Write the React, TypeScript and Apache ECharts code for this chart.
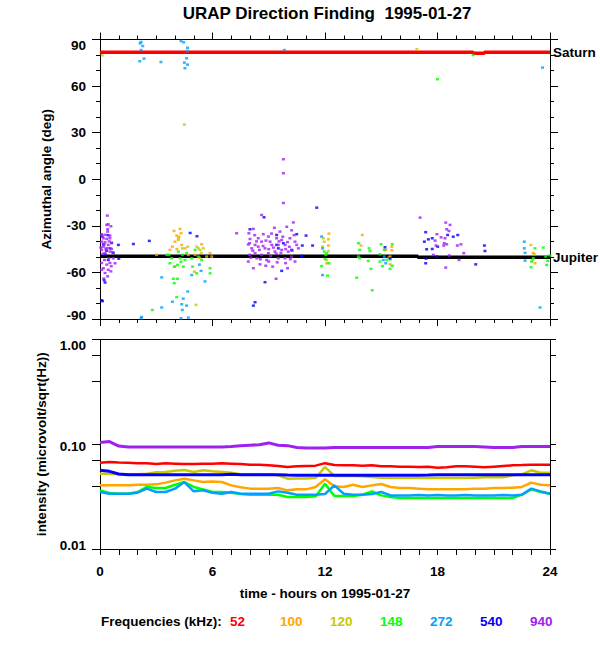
import React, { useEffect, useRef } from 'react';
import * as echarts from 'echarts';

const TITLE = 'URAP Direction Finding  1995-01-27';
const X_NAME = 'time - hours on 1995-01-27';
const Y1_NAME = 'Azimuthal angle (deg)';
const Y2_NAME = 'intensity (microvolt/sqrt(Hz))';
const FREQ_LABEL = 'Frequencies (kHz):';
const FREQS = ['52', '100', '120', '148', '272', '540', '940'];
const COLORS = ['#ff0000', '#ffa500', '#c8c800', '#00ff00', '#00a0ff', '#0000ff', '#a020f0'];

// bottom panel: intensity vs time
const HOURS = [0, 0.5, 1, 1.5, 2, 2.5, 3, 3.5, 4, 4.5, 5, 5.5, 6, 6.5, 7, 7.5, 8, 8.5, 9, 9.5, 10, 10.5, 11, 11.5, 12, 12.5, 13, 13.5, 14, 14.5, 15, 15.5, 16, 16.5, 17, 17.5, 18, 18.5, 19, 19.5, 20, 20.5, 21, 21.5, 22, 22.5, 23, 23.5, 24];
const INT_52 = [0.0667, 0.0677, 0.067, 0.0667, 0.066, 0.066, 0.0648, 0.0657, 0.0653, 0.0648, 0.0648, 0.0653, 0.0653, 0.0657, 0.0653, 0.0648, 0.0638, 0.0638, 0.0629, 0.062, 0.0606, 0.0615, 0.062, 0.0625, 0.066, 0.0633, 0.0629, 0.0629, 0.0625, 0.0629, 0.0615, 0.0615, 0.0611, 0.0611, 0.0606, 0.0611, 0.0598, 0.0602, 0.0615, 0.0615, 0.0611, 0.0602, 0.0611, 0.062, 0.0629, 0.0633, 0.0638, 0.0638, 0.0638];
const INT_100 = [0.0405, 0.0405, 0.0405, 0.0405, 0.0411, 0.0411, 0.0414, 0.043, 0.0452, 0.0469, 0.0452, 0.0436, 0.0442, 0.0436, 0.0405, 0.0388, 0.0377, 0.0377, 0.0377, 0.0382, 0.0363, 0.0371, 0.0371, 0.0391, 0.0463, 0.0397, 0.0391, 0.0411, 0.0391, 0.0405, 0.0417, 0.0391, 0.0382, 0.0382, 0.0377, 0.0371, 0.0371, 0.0371, 0.0371, 0.0371, 0.0377, 0.0377, 0.0382, 0.0382, 0.0385, 0.0391, 0.043, 0.0411, 0.0405];
const INT_120 = [0.0524, 0.0524, 0.0516, 0.0516, 0.0516, 0.0524, 0.054, 0.0543, 0.0559, 0.0568, 0.0543, 0.0564, 0.0551, 0.0543, 0.0535, 0.0516, 0.0516, 0.0516, 0.0516, 0.0505, 0.0469, 0.0472, 0.0472, 0.0476, 0.0606, 0.0498, 0.0498, 0.0498, 0.0494, 0.0487, 0.048, 0.0476, 0.0476, 0.0476, 0.0476, 0.0476, 0.0476, 0.0476, 0.0476, 0.0476, 0.048, 0.0483, 0.0483, 0.0483, 0.0505, 0.0516, 0.0564, 0.0535, 0.0535];
const INT_148 = [0.0363, 0.0342, 0.0337, 0.0337, 0.035, 0.0391, 0.0382, 0.0382, 0.0411, 0.0436, 0.0391, 0.0371, 0.035, 0.035, 0.0345, 0.0335, 0.033, 0.033, 0.033, 0.033, 0.0314, 0.0314, 0.0314, 0.0318, 0.042, 0.0321, 0.0321, 0.0321, 0.033, 0.0355, 0.0325, 0.0314, 0.0307, 0.0307, 0.0307, 0.0307, 0.0307, 0.0307, 0.0307, 0.0307, 0.0307, 0.0307, 0.0307, 0.0307, 0.0307, 0.033, 0.0371, 0.035, 0.0337];
const INT_272 = [0.035, 0.0337, 0.0337, 0.0337, 0.0345, 0.0377, 0.035, 0.035, 0.0377, 0.0436, 0.0355, 0.0363, 0.0345, 0.0337, 0.035, 0.0337, 0.0337, 0.0337, 0.0337, 0.0355, 0.0345, 0.033, 0.033, 0.033, 0.0335, 0.0405, 0.0337, 0.033, 0.033, 0.0335, 0.035, 0.0325, 0.0325, 0.0325, 0.0327, 0.0325, 0.0327, 0.0325, 0.0325, 0.0327, 0.0325, 0.0325, 0.0325, 0.0327, 0.0325, 0.033, 0.0377, 0.0355, 0.0337];
const INT_540 = [0.0564, 0.0551, 0.052, 0.0512, 0.0512, 0.0512, 0.0512, 0.0512, 0.0512, 0.0512, 0.0512, 0.0512, 0.0512, 0.0512, 0.0516, 0.0512, 0.0512, 0.0512, 0.0512, 0.0512, 0.0508, 0.0505, 0.0505, 0.0505, 0.0505, 0.0505, 0.0505, 0.0505, 0.0505, 0.0505, 0.0505, 0.0505, 0.0505, 0.0505, 0.0505, 0.0508, 0.0512, 0.0512, 0.0512, 0.0512, 0.0512, 0.0512, 0.0512, 0.0512, 0.0512, 0.0512, 0.0512, 0.0512, 0.0512];
const INT_940 = [0.104, 0.106, 0.096, 0.094, 0.094, 0.094, 0.094, 0.094, 0.094, 0.094, 0.094, 0.094, 0.094, 0.094, 0.095, 0.097, 0.098, 0.099, 0.103, 0.098, 0.097, 0.093, 0.092, 0.092, 0.092, 0.093, 0.093, 0.093, 0.093, 0.093, 0.093, 0.093, 0.093, 0.093, 0.093, 0.093, 0.095, 0.095, 0.095, 0.095, 0.095, 0.094, 0.093, 0.093, 0.093, 0.095, 0.095, 0.095, 0.095];

// top panel: planet directions [hour, deg]
const SATURN = [[0, 81.8], [19.9, 81.8], [19.9, 81.2], [20.5, 81.2], [20.5, 81.8], [24, 81.8]];
const JUPITER = [[0, -49.6], [16.95, -49.6], [16.95, -50.2], [24, -50.2]];

// top panel: direction-finding points [hour, deg]
const DF_100 = [[3.95, -33.3], [4.27, -32], [4.09, -36.3], [4.18, -38], [4.0, -40.2], [4.32, -34.8], [3.86, -43.4], [4.36, -42.3], [4.53, -44.5], [3.02, -48.7], [5.07, -48.7], [5.42, -41.9], [5.87, -47.6], [5.96, -49.8], [4.71, -48.7], [3.73, -45.5], [5.03, -59.5], [4.1, -45], [5.3, -50.5], [12.21, -35], [12.18, -42.7], [12.09, -54.1], [13.99, -35.9], [13.92, -42.7], [15.56, -43.4], [15.56, -45.7], [15.25, -45.5], [15.47, -54.8], [15.47, -49.8], [23.2, -54.1], [23.11, -47.5]];
const DF_120 = [[4.18, -39.1], [4.21, -37], [5.16, -43.4], [5.33, -45.5], [5.24, -44.5], [5.51, -44.5], [4.0, -56.3], [5.69, -49.8], [5.12, -80.9], [4.39, -44.5], [4.68, -43.4], [4.5, 35.2], [0.12, 79.8], [16.9, 83.7], [11.91, -38], [11.96, -40.2], [12.18, -38.7], [11.87, -43.4], [12.18, -46.2], [12.09, -52], [15.41, -50.5], [22.98, -42.3], [23.16, -48.3], [23.06, -52], [5.4, -47.5]];
const DF_148 = [[3.68, -48.7], [3.82, -50.9], [3.73, -54.1], [3.96, -56.3], [4.13, -55.2], [4.27, -50.9], [4.39, -48.7], [4.32, -53.1], [4.53, -52], [4.62, -47.6], [4.89, -50.9], [5.07, -45.5], [5.24, -49.8], [5.42, -52], [4.94, -56.3], [5.16, -60.6], [5.87, -57.3], [5.87, -60.6], [3.96, -66.9], [3.91, -64.1], [4.13, -64.1], [4.09, -75.9], [2.79, -84.2], [3.56, -48.7], [4.44, -56.3], [4.18, -46.6], [18.0, 64.4], [19.9, 80], [11.96, -46.6], [12.04, -48.7], [12.0, -51.4], [11.82, -55.9], [12.14, -62.1], [12.21, -54.1], [12.09, -47.6], [13.78, -41.2], [13.85, -45.5], [13.78, -49.8], [13.85, -50.9], [13.69, -63.4], [14.31, -52.6], [14.4, -46.2], [14.35, -44.5], [14.52, -71.5], [14.99, -41.9], [14.93, -48.3], [14.93, -53], [15.06, -55.9], [14.45, -57.7], [15.29, -52], [15.47, -51.6], [15.59, -41.9], [15.59, -55.7], [15.47, -57.7], [15.16, -45.5], [23.2, -44.5], [23.11, -50.9], [23.02, -53], [22.99, -56.7], [23.64, -44], [23.77, -49.8], [23.88, -52.6], [24, -49.1], [23.82, -55.2]];
const DF_272 = [[2.19, 88.4], [2.14, 87.5], [2.28, 85.8], [2.19, 83.2], [2.35, 77.7], [2.12, 76], [3.25, 75.5], [4.32, 89], [4.46, 88.2], [4.67, 84.7], [4.64, 82.6], [4.62, 77.9], [4.5, 75.1], [4.67, 73.8], [4.53, 71.5], [9.83, 83.2], [23.6, 71.9], [3.29, -63.2], [5.6, -65.8], [4.89, -61.7], [5.39, -59], [4.68, -72.3], [4.44, -76.9], [3.86, -78.9], [3.29, -82.6], [4.62, -81.4], [4.39, -84.2], [4.36, -80.5], [4.71, -89.1], [4.32, -89.5], [2.19, -89.5], [2.22, -88.7], [5.3, -55], [11.82, -36.9], [11.87, -44.5], [11.87, -61.7], [15.16, -49.8], [15.24, -54.1], [15.11, -52], [22.63, -40.2], [22.63, -44.5], [22.67, -47.4], [22.67, -52.4], [23.47, -82.6]];
const DF_540 = [[0.09, -36.3], [0.18, -42], [0.53, -44.5], [0.71, -47.4], [0.98, -42.3], [1.0, -51.2], [0.27, -48.5], [0.27, -66.5], [0.22, -65], [0.13, -78.5], [0.44, -52], [0.62, -41], [0.09, -77.9], [0.35, -46], [0.42, -36], [1.78, -41.7], [2.63, -39.7], [4.81, -34.6], [5.17, -36.7], [8.75, -24.5], [8.0, -32.2], [9.42, -35.9], [10.99, -36.3], [10.49, -35.4], [11.34, -42.7], [10.79, -42.7], [10.22, -45.5], [9.51, -44.5], [10.76, -49.8], [9.69, -59], [8.8, -66.3], [8.27, -79.2], [8.18, -81.4], [9.42, -42.3], [9.78, -41.2], [11.56, -18.3], [10.76, -49.4], [15.2, -43.8], [15.47, -50.9], [17.37, -34.1], [17.51, -38.7], [17.72, -38], [17.3, -40.2], [17.42, -45.1], [17.72, -44.9], [17.96, -49.8], [18.54, -35.9], [18.84, -37], [19.08, -35.9], [17.37, -54.1], [18.01, -43.4], [20.5, -42.7], [20.53, -46.2], [20.04, -54.8], [17.39, -51.1]];
const DF_940 = [[0.39, -23.4], [0.44, -29], [0.36, -29.4], [0.41, -32.2], [0.58, -30.3], [0.09, -35.4], [0.27, -35.8], [0.53, -36.3], [0.41, -33.7], [0.18, -38], [0.36, -38.4], [0.53, -38], [0.09, -40.2], [0.27, -40.6], [0.62, -41], [0.44, -42.3], [0.18, -43.4], [0.36, -44.4], [0.62, -44.9], [0.09, -45.5], [0.53, -46.6], [0.27, -47.6], [0.09, -53.9], [0.36, -55], [0.53, -53.9], [0.18, -57.3], [0.44, -58.3], [0.27, -60.4], [0.41, -62.5], [0.09, -58.3], [0.58, -59.3], [0.8, -54.1], [0.71, -50.9], [0.13, -37], [0.22, -42], [0.31, -45], [0.49, -40], [0.15, -48], [0.66, -47], [0.04, -44], [0.47, -51], [0.24, -52], [0.6, -56], [0.2, -64],
  [7.29, -34.8], [8.62, -23], [8.18, -32], [7.94, -34.8], [8.44, -38], [7.98, -41.2], [8.27, -42.3], [8.62, -40.2], [8.98, -36.9], [9.3, -31.3], [9.96, -30.6], [10.31, -27.8], [10.22, -32.9], [10.13, -38], [10.4, -40.2], [10.49, -42.3], [9.69, -39.1], [9.51, -42.3], [9.16, -42.3], [8.8, -44.5], [8.44, -43.4], [8.09, -44.5], [8.27, -47.6], [8.62, -48.7], [8.98, -47.6], [9.33, -46.6], [9.69, -45.5], [10.04, -46.6], [10.22, -49.8], [9.87, -50.9], [9.51, -50.9], [8.89, -52], [8.36, -50.9], [7.98, -48.7], [7.91, -53], [8.18, -57.3], [8.53, -54.8], [8.84, -55.7], [9.21, -56.3], [10.0, -57.3], [9.39, -64.1], [10.4, -53], [7.91, -42], [8.71, -35.4], [9.6, -33.7], [9.07, -40.2], [9.42, -38], [9.87, -42.3], [10.58, -44.5], [9.78, 12.9], [9.78, 3.9], [9.78, -15.3],
  [8.0, -38.5], [8.15, -46], [8.35, -40], [8.5, -45.5], [8.7, -43], [8.85, -39.5], [9.0, -45], [9.1, -49.5], [9.25, -44], [9.4, -48], [9.55, -40], [9.65, -47.5], [9.75, -37], [9.9, -45], [10.1, -43.5], [10.25, -46], [10.35, -36], [8.55, -51.5], [9.0, -53], [9.45, -53.5], [9.9, -54], [8.25, -36], [9.15, -35], [10.0, -40.5], [8.05, -50.5], [10.15, -51.5],
  [17.07, -24.7], [18.44, -27.9], [18.67, -29.4], [18.49, -32.2], [18.61, -33.3], [17.87, -39.5], [18.19, -37.4], [18.4, -38], [18.36, -41.2], [18.49, -41.9], [18.33, -42.7], [17.92, -42.7], [19.06, -42.7], [19.25, -41.9], [17.78, -48.7], [18.63, -49.1], [19.15, -52], [18.44, -56.9], [17.97, -35.4], [19.4, -47.6]];

const Y1_TICKS_MIN = -90;
const Y1_TICKS_MAX = 90;
const X_MIN = 0;
const X_MAX = 24;

const FONT = '"Liberation Sans", Arial, Helvetica, sans-serif';

export default function App() {
  const ref = useRef<HTMLDivElement>(null);
  useEffect(() => {
    if (!ref.current) return;
    const chart = echarts.init(ref.current, undefined, { renderer: 'svg' });
    const txt = { fontFamily: FONT, fontWeight: 'bold' as const, fontSize: 13.5, color: '#000' };
    const axisLine = { show: true, onZero: false, lineStyle: { color: '#000', width: 1 } };

    const xBase = (gridIndex: number, position: string, showLabel: boolean, tickLen: number, minorLen: number, showTicks: boolean) => ({
      type: 'value', gridIndex, position, min: X_MIN, max: X_MAX, interval: 6,
      axisLine,
      axisTick: { show: showTicks, length: tickLen, lineStyle: { color: '#000' } },
      minorTick: { show: showTicks, splitNumber: 6, length: minorLen, lineStyle: { color: '#000' } },
      axisLabel: { show: showLabel, margin: 15, ...txt },
      splitLine: { show: false },
    });

    const richTxt = { fontFamily: FONT, fontWeight: 'bold' as const, fontSize: 13.5, color: '#000' };

    const series: any[] = [];
    // planet lines
    series.push({
      type: 'line', xAxisIndex: 0, yAxisIndex: 0, data: SATURN, showSymbol: false, z: 1,
      lineStyle: { color: '#ff0000', width: 3.5 },
      endLabel: { show: true, formatter: 'Saturn', distance: 3, ...txt },
    });
    series.push({
      type: 'line', xAxisIndex: 0, yAxisIndex: 0, data: JUPITER, showSymbol: false, z: 1,
      lineStyle: { color: '#000', width: 3.5 },
      endLabel: { show: true, formatter: 'Jupiter', distance: 3, ...txt },
    });
    const dfSets: [number[][], string][] = [
      [DF_100, COLORS[1]], [DF_120, COLORS[2]], [DF_148, COLORS[3]],
      [DF_272, COLORS[4]], [DF_540, COLORS[5]], [DF_940, COLORS[6]],
    ];
    dfSets.forEach(([d, c]) => {
      series.push({
        type: 'scatter', xAxisIndex: 0, yAxisIndex: 0, data: d, z: 3,
        symbol: 'rect', symbolSize: [3, 2.5], itemStyle: { color: c },
      });
    });
    const intSets = [INT_52, INT_100, INT_120, INT_148, INT_272, INT_540, INT_940];
    intSets.forEach((vals, i) => {
      series.push({
        type: 'line', xAxisIndex: 2, yAxisIndex: 2, showSymbol: false, z: 2,
        data: HOURS.map((h, k) => [h, vals[k]]),
        lineStyle: { color: COLORS[i], width: i === 5 || i === 6 ? 3 : 2.5 },
      });
    });

    const legendEls: any[] = [
      { type: 'text', x: 101, y: 621, style: { text: FREQ_LABEL, fill: '#000', font: `bold 13.5px ${FONT}`, textVerticalAlign: 'middle' } },
    ];
    FREQS.forEach((f, i) => {
      legendEls.push({ type: 'text', x: 230 + 50 * i, y: 621, style: { text: f, fill: COLORS[i], font: `bold 13.5px ${FONT}`, textVerticalAlign: 'middle' } });
    });

    chart.setOption({
      animation: false,
      backgroundColor: '#fff',
      graphic: [
        { type: 'text', x: 327, y: 13, style: { text: TITLE, fill: '#000', font: `bold 17px ${FONT}`, textAlign: 'center', textVerticalAlign: 'middle' } },
        ...legendEls,
      ],
      grid: [
        { left: 100, top: 39.5, width: 450, height: 279.5, containLabel: false },
        { left: 100, top: 339.5, width: 450, height: 209.5, containLabel: false },
      ],
      xAxis: [
        xBase(0, 'bottom', false, 7, 4, true),
        xBase(0, 'top', false, 7, 4, true),
        { ...xBase(1, 'bottom', true, 6, 6, true), name: X_NAME, nameLocation: 'middle', nameGap: 37, nameTextStyle: txt },
        xBase(1, 'top', false, 0, 0, false),
      ],
      yAxis: [
        {
          type: 'value', gridIndex: 0, position: 'left', min: Y1_TICKS_MIN, max: Y1_TICKS_MAX, interval: 30,
          axisLine,
          axisTick: { length: 8, lineStyle: { color: '#000' } },
          minorTick: { show: true, splitNumber: 3, length: 4, lineStyle: { color: '#000' } },
          splitLine: { show: false },
          axisLabel: {
            margin: 14, ...txt,
            formatter: (v: number) => (v === Y1_TICKS_MAX ? `{t|${v}}` : v === Y1_TICKS_MIN ? `{b|${v}}` : `{n|${v}}`),
            rich: { t: { ...richTxt, padding: [12, 0, 0, 0] }, b: { ...richTxt, padding: [0, 0, 8, 0] }, n: richTxt },
          },
          name: Y1_NAME, nameLocation: 'middle', nameGap: 47, nameTextStyle: txt,
        },
        {
          type: 'value', gridIndex: 0, position: 'right', min: Y1_TICKS_MIN, max: Y1_TICKS_MAX, interval: 30,
          axisLine,
          axisTick: { length: 8, lineStyle: { color: '#000' } },
          minorTick: { show: true, splitNumber: 3, length: 4, lineStyle: { color: '#000' } },
          splitLine: { show: false },
          axisLabel: { show: false },
        },
        {
          type: 'log', logBase: 10, gridIndex: 1, position: 'left', min: 0.01, max: 1,
          axisLine,
          axisTick: { length: 8, lineStyle: { color: '#000' } },
          minorTick: { show: true, splitNumber: 3, length: 8, lineStyle: { color: '#000' } },
          splitLine: { show: false },
          axisLabel: {
            margin: 14, ...txt,
            formatter: (v: number) => {
              const s = Number(v).toFixed(2);
              if (v > 0.5) return `{t|${s}}`;
              if (v < 0.02) return `{b|${s}}`;
              return `{n|${s}}`;
            },
            rich: { t: { ...richTxt, padding: [12, 0, 0, 0] }, b: { ...richTxt, padding: [0, 0, 8, 0] }, n: { ...richTxt, padding: [4, 0, 0, 0] } },
          },
          name: Y2_NAME, nameLocation: 'middle', nameGap: 47, nameTextStyle: txt,
        },
        {
          type: 'log', logBase: 10, gridIndex: 1, position: 'right', min: 0.01, max: 1,
          axisLine,
          axisTick: { length: 6, lineStyle: { color: '#000' } },
          minorTick: { show: true, splitNumber: 3, length: 6, lineStyle: { color: '#000' } },
          splitLine: { show: false },
          axisLabel: { show: false },
        },
      ],
      series,
    });
    return () => chart.dispose();
  }, []);
  return <div ref={ref} style={{ position: 'fixed', left: 0, top: 0, width: 600, height: 650 }} />;
}
